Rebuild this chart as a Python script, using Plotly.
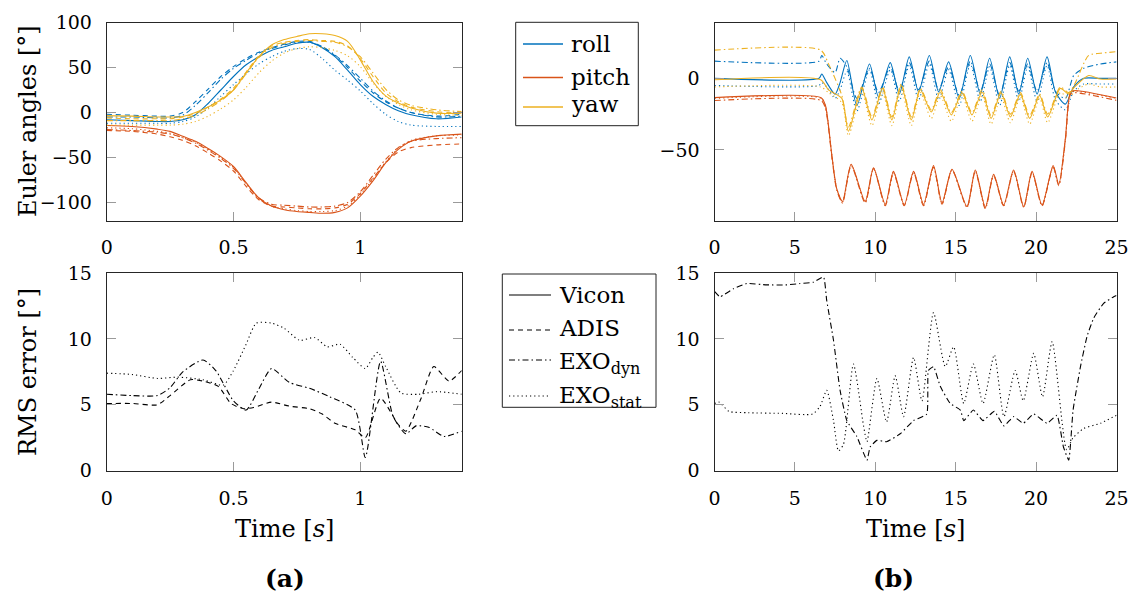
import plotly.graph_objects as go

W, H = 1129, 596
FONT = "DejaVu Serif"
C_ROLL, C_PITCH, C_YAW = "#0072BD", "#D95319", "#EDB120"
DASHES = {"Vicon": "solid", "ADIS": "5px,4px", "EXO_dyn": "6px,3px,1.5px,3px", "EXO_stat": "1.2px,3px"}

# ---------------- (a) Euler angles ----------------
T_A = [0, 0.1, 0.2, 0.25, 0.3, 0.35, 0.4, 0.45, 0.5, 0.55, 0.6, 0.65, 0.7, 0.75, 0.8,
       0.85, 0.9, 0.95, 1.0, 1.05, 1.1, 1.15, 1.2, 1.3, 1.4]
ROLL_VICON_A = [-8, -9, -10, -10, -8, -2.5, 10, 25, 40, 53, 62, 69, 73, 77, 78, 72, 62, 47, 31, 18, 9, 2, -2.5, -7, -5]
ROLL_ADIS_A = [-2, -3, -4, -4, 0, 12, 26, 40, 51, 60, 67, 72, 76, 79, 79, 73, 63, 50, 35, 22, 12, 5, 0, -4, -2]
ROLL_DYN_A = [-5, -5, -6, -6, -3, 8, 22, 37, 49, 58, 66, 71, 75, 78, 78, 73, 64, 52, 38, 24, 13, 5, 0, -5, -4]
ROLL_STAT_A = [-12, -12, -12, -12, -10, -5, 5, 18, 31, 43, 54, 62, 68, 71, 70, 60, 47, 36, 24, 10, -2, -10, -14, -15.5, -15.5]
YAW_VICON_A = [-3.5, -4, -5, -5, -4.5, 0, 6, 14, 25, 44, 62, 75, 81, 84.5, 87.5, 87.5, 85.5, 79, 58.5, 34.5, 18.5, 10.5, 5, -0.7, -0.7]
YAW_ADIS_A = [-6, -7, -7, -7, -5, -1, 6, 15, 27, 45, 63, 74, 78, 80, 81, 80, 79, 74, 60, 40, 22, 12, 6, 1, -1]
YAW_DYN_A = [-9, -9, -9, -9, -7, -3, 4, 13, 25, 43, 61, 72, 77, 79, 80, 79, 78, 73, 62, 44, 26, 14, 8, 3, 1]
YAW_STAT_A = [-14, -14, -14, -14, -13, -10, -4, 4, 14, 28, 44, 57, 66, 71, 73, 72, 69, 63, 51, 33, 18, 9, 3, -2, -3]
PITCH_VICON_A = [-14.5, -15.5, -18.5, -21, -26.5, -32, -40, -49, -60, -78, -95, -104, -108, -110, -111, -112, -111, -106, -93, -76, -56, -41, -32, -26, -24]
PITCH_ADIS_A = [-20, -21, -24, -27, -31, -37, -45, -54, -65, -82, -97, -104, -105, -106, -107, -107, -106, -102, -90, -73, -56, -44, -39, -36, -35]
PITCH_DYN_A = [-19, -20, -22, -24, -28, -34, -42, -51, -62, -79, -95, -102, -103, -104, -105, -105, -104, -100, -88, -70, -52, -39, -32, -29, -28]
PITCH_STAT_A = [-17, -18, -21, -23, -28, -33, -41, -50, -61, -79, -96, -104, -107, -109, -110, -110, -109, -104, -91, -74, -55, -40, -31, -26, -25]

# ---------------- (a) RMS error ----------------
RMS_ADIS_A_T = [0, 0.1, 0.2, 0.25, 0.33, 0.38, 0.44, 0.49, 0.54, 0.58, 0.65, 0.72, 0.8, 0.85, 0.9, 0.98,
                1.02, 1.08, 1.15, 1.18, 1.24, 1.29, 1.35, 1.4]
RMS_ADIS_A = [5.1, 5.1, 5.0, 5.7, 6.9, 6.8, 6.4, 5.1, 4.7, 4.8, 5.2, 4.9, 4.7, 4.3, 3.6, 3.1,
              2.5, 5.5, 3.5, 3.0, 5.5, 7.9, 6.8, 7.6]
RMS_DYN_A_T = [0, 0.1, 0.2, 0.25, 0.3, 0.38, 0.43, 0.5, 0.55, 0.6, 0.65, 0.72, 0.8, 0.88, 0.98, 1.02,
               1.08, 1.13, 1.18, 1.22, 1.27, 1.33, 1.4]
RMS_DYN_A = [5.8, 5.7, 5.7, 6.3, 7.5, 8.4, 7.6, 5.3, 4.6, 6.2, 7.75, 6.7, 6.25, 5.6, 4.6, 1.0,
             8.3, 4.1, 2.8, 3.4, 3.3, 2.6, 3.0]
RMS_STAT_A_T = [0, 0.1, 0.2, 0.28, 0.38, 0.46, 0.5, 0.55, 0.59, 0.65, 0.7, 0.76, 0.82, 0.87, 0.92, 0.97,
                1.02, 1.05, 1.07, 1.1, 1.16, 1.23, 1.3, 1.4]
RMS_STAT_A = [7.4, 7.3, 7.0, 7.1, 6.9, 6.5, 7.6, 9.6, 11.2, 11.2, 10.8, 9.9, 10.1, 9.4, 9.6, 8.6,
              7.75, 8.6, 9.0, 7.9, 5.9, 5.8, 6.0, 5.8]

# ---------------- (b) Euler angles ----------------
T_ROLL_B = [0, 6.5, 6.67, 6.98, 7.5, 7.81, 8.23, 8.85, 9.64, 10.2, 10.93, 11.49, 12.11, 12.69, 13.36,
            13.94, 14.56, 15.22, 15.91, 16.53, 17.11, 17.73, 18.36, 18.92, 19.48, 20.06, 20.68, 21.2,
            21.82, 22.34, 22.96, 24, 25]
ROLL_VICON_B = [0, 0, 3, -3, -11, -3, 12.5, -19, 10, -13, 11, -11, 15, -9.5, 16, -9.5, 11.5, -14, 16,
                -11, 14, -14, 15, -11, 14, -11, 15, -9.5, -18, -6, 0, 0, 0]
ROLL_DYN_B = [12, 12, 16, 10, 4, 14, 8, -14, 7, -10, 8, -9, 11, -8, 12, -8, 8, -12, 12, -9, 10, -12,
              11, -9, 10, -9, 11, -9, -14, 2, 7, 10, 11.5]
ROLL_STAT_B = [-5, -5, -3, -6, -14, -8, 5, -23, 6, -18, 6, -16, 9, -15, 10, -15, 6, -19, 10, -16, 8,
               -19, 9, -16, 8, -16, 9, -15, -22, -9, -4, -4, -4]
T_YAW_B = [0, 6.6, 7.09, 7.92, 8.33, 9.16, 9.79, 10.45, 11.03, 11.61, 12.24, 12.8, 13.48, 14.04, 14.73,
           15.39, 16.01, 16.64, 17.2, 17.82, 18.4, 19.02, 19.6, 20.22, 20.72, 21.51, 22.03, 22.4, 23.27,
           24, 25]
YAW_VICON_B = [-1, -1, -8, -14, -37, -7, -29, -7, -29, -5, -29, -8, -23.5, -9.5, -25.5, -10, -25.5,
               -9.5, -28, -10, -27, -11, -28, -12, -27, -7, -11, -6, 2, -0.5, -0.5]
YAW_DYN_B = [19.7, 19.7, 10, -12, -34, -6, -27, -6, -27, -4, -27, -7, -22, -8, -24, -9, -24, -8, -26,
             -9, -25, -10, -26, -11, -25, -6, -10, -4, 16, 17.5, 18.6]
YAW_STAT_B = [-6, -6, -10, -17, -40, -10, -33, -10, -33, -8, -33, -10, -28, -12, -30, -12, -30, -12,
              -32, -13, -31, -13, -32, -14, -31, -10, -14, -9, -4, -6, -6]
T_PITCH_B = [0, 6.63, 6.9, 7.3, 7.6, 7.96, 8.5, 9.37, 9.89, 10.62, 11.13, 11.8, 12.38, 13.0, 13.62,
             14.15, 14.77, 15.7, 16.22, 16.84, 17.36, 17.98, 18.6, 19.23, 19.75, 20.37, 21.06, 21.41,
             21.82, 22.14, 22.4, 25]
PITCH_VICON_B = [-13.5, -13.5, -19, -54, -77, -86, -60, -86, -62.5, -88, -65, -88.5, -65, -88, -61,
                 -87, -63.5, -89.5, -64, -90, -67, -88.5, -64, -89.5, -65, -88.5, -61, -74, -42, -9.5,
                 -8.5, -13.7]
PITCH_DYN_B = [-15.5, -15.5, -21, -55, -78, -87, -61, -87, -63, -89, -66, -89, -66, -89, -62, -88,
               -64, -90, -65, -91, -68, -89, -65, -90, -66, -89, -62, -75, -44, -11, -10, -15.4]
PITCH_STAT_B = [-14, -14, -19.5, -54, -77, -86.5, -60.5, -86.5, -63, -88.5, -65.5, -88.5, -65.5,
                -88.5, -61.5, -87.5, -64, -90, -64.5, -90.5, -67.5, -89, -64.5, -90, -65.5, -89,
                -61.5, -74.5, -42.5, -10, -9, -14]

# ---------------- (b) RMS error ----------------
RMS_DYN_B_T = [0, 0.34, 1.17, 2.0, 3.25, 4.5, 5.3, 6.15, 6.78, 6.98, 7.4, 7.81, 8.23, 8.85, 9.48, 9.68,
               10.1, 10.7, 11.55, 12.38, 13.2, 13.3, 13.62, 14.04, 14.66, 15.29, 15.5, 16.1, 16.7,
               17.4, 18.0, 18.6, 19.2, 19.85, 20.68, 21.3, 21.7, 22.03, 22.3, 22.76, 23.17, 23.59,
               24.2, 24.83, 25]
RMS_DYN_B = [13.6, 13.2, 13.8, 14.2, 14.1, 14.1, 14.2, 14.3, 14.7, 12.9, 9.9, 6.1, 3.8, 2.6, 0.8,
             1.8, 2.3, 2.2, 2.8, 3.8, 4.3, 7.6, 7.9, 6.4, 5.1, 4.6, 3.8, 4.6, 3.8, 4.5, 3.4, 4.1,
             3.6, 4.3, 3.6, 4.2, 1.8, 0.8, 4.6, 7.9, 10.2, 11.6, 12.7, 13.2, 13.3]
RMS_STAT_B_T = [0, 0.3, 0.9, 2.1, 4.2, 6.1, 6.57, 6.98, 7.4, 7.71, 8.02, 8.64, 9.27, 9.48, 10.1, 10.7,
                11.24, 11.76, 12.38, 12.9, 13.62, 14.35, 14.87, 15.5, 16.1, 16.7, 17.4, 18.0, 18.7,
                19.2, 19.85, 20.4, 21.0, 21.9, 22.3, 22.96, 24.0, 25]
RMS_STAT_B = [5.1, 5.2, 4.5, 4.4, 4.35, 4.3, 4.9, 6.1, 3.8, 1.5, 2.0, 8.1, 3.4, 2.2, 7.0, 3.7, 7.2,
              4.1, 8.6, 5.3, 12.0, 7.9, 9.4, 5.1, 8.1, 5.1, 8.8, 4.1, 7.6, 5.3, 8.9, 5.6, 9.8, 1.6,
              2.5, 3.2, 3.6, 4.2]

ANGLE_LEGEND = ["roll", "pitch", "yaw"]
SOURCE_LEGEND = ["Vicon", "ADIS", "EXO<sub>dyn</sub>", "EXO<sub>stat</sub>"]
SOURCE_KEYS = ["Vicon", "ADIS", "EXO_dyn", "EXO_stat"]

fig = go.Figure()


def add_line(x, y, color, src, xa, ya, smooth=0.8, width=1.1):
    fig.add_trace(go.Scatter(
        x=x, y=y, mode="lines", xaxis=xa, yaxis=ya, showlegend=False, hoverinfo="skip",
        line=dict(color=color, width=width, dash=DASHES[src], shape="spline", smoothing=smooth)))


# (a) angles
for color, series in [
    (C_ROLL, [("EXO_stat", ROLL_STAT_A), ("EXO_dyn", ROLL_DYN_A), ("ADIS", ROLL_ADIS_A), ("Vicon", ROLL_VICON_A)]),
    (C_PITCH, [("EXO_stat", PITCH_STAT_A), ("EXO_dyn", PITCH_DYN_A), ("ADIS", PITCH_ADIS_A), ("Vicon", PITCH_VICON_A)]),
    (C_YAW, [("EXO_stat", YAW_STAT_A), ("EXO_dyn", YAW_DYN_A), ("ADIS", YAW_ADIS_A), ("Vicon", YAW_VICON_A)]),
]:
    for src, vals in series:
        add_line(T_A, vals, color, src, "x", "y")

# (a) RMS
add_line(RMS_ADIS_A_T, RMS_ADIS_A, "#000", "ADIS", "x2", "y2", 0.6)
add_line(RMS_DYN_A_T, RMS_DYN_A, "#000", "EXO_dyn", "x2", "y2", 0.6)
add_line(RMS_STAT_A_T, RMS_STAT_A, "#000", "EXO_stat", "x2", "y2", 0.6)

# (b) angles
for color, t, series in [
    (C_ROLL, T_ROLL_B, [("EXO_stat", ROLL_STAT_B), ("EXO_dyn", ROLL_DYN_B), ("Vicon", ROLL_VICON_B)]),
    (C_PITCH, T_PITCH_B, [("EXO_stat", PITCH_STAT_B), ("EXO_dyn", PITCH_DYN_B), ("Vicon", PITCH_VICON_B)]),
    (C_YAW, T_YAW_B, [("EXO_stat", YAW_STAT_B), ("EXO_dyn", YAW_DYN_B), ("Vicon", YAW_VICON_B)]),
]:
    for src, vals in series:
        add_line(t, vals, color, src, "x3", "y3", 0.7)

# (b) RMS
add_line(RMS_DYN_B_T, RMS_DYN_B, "#000", "EXO_dyn", "x4", "y4", 0.4)
add_line(RMS_STAT_B_T, RMS_STAT_B, "#000", "EXO_stat", "x4", "y4", 0.6)


def px_x(v):
    return v / W


def px_y(v):
    return 1 - v / H


TICKFONT = dict(family=FONT, size=19, color="#000")


def axis(domain, rng, tickvals, anchor, ticktext=None):
    d = dict(domain=domain, range=rng, tickvals=tickvals, anchor=anchor, showline=True,
             linecolor="#262626", linewidth=1, mirror="ticks", ticks="inside", ticklen=9,
             tickcolor="#9a9a9a", tickwidth=1, showgrid=False, zeroline=False, automargin=False,
             tickfont=TICKFONT, ticklabelstandoff=10, fixedrange=True)
    if ticktext is not None:
        d["ticktext"] = ticktext
    return d


XL = [px_x(106.7), px_x(461.7)]
XR = [px_x(714.5), px_x(1116.5)]
YT = [px_y(220.5), px_y(22.5)]
YB = [px_y(470.7), px_y(273.0)]

fig.update_layout(
    template="none",
    width=W, height=H, margin=dict(l=0, r=0, t=0, b=0, pad=0), autosize=False,
    paper_bgcolor="white", plot_bgcolor="white", showlegend=False,
    font=dict(family=FONT, color="#000"),
    xaxis=axis(XL, [0, 1.4], [0, 0.5, 1], "y", ["0", "0.5", "1"]),
    yaxis=axis(YT, [-120, 100], [-100, -50, 0, 50, 100], "x"),
    xaxis2=axis(XL, [0, 1.4], [0, 0.5, 1], "y2", ["0", "0.5", "1"]),
    yaxis2=axis(YB, [0, 15], [0, 5, 10, 15], "x2"),
    xaxis3=axis(XR, [0, 25], [0, 5, 10, 15, 20, 25], "y3"),
    yaxis3=axis(YT, [-99.3, 39], [-50, 0], "x3"),
    xaxis4=axis(XR, [0, 25], [0, 5, 10, 15, 20, 25], "y4"),
    yaxis4=axis(YB, [0, 15], [0, 5, 10, 15], "x4"),
)

ann = []
shapes = []
LABEL = dict(family=FONT, size=24, color="#000")
ann.append(dict(text="Euler angles [°]", x=px_x(28), y=px_y(121), textangle=-90, font=LABEL))
ann.append(dict(text="RMS error [°]", x=px_x(28), y=px_y(372), textangle=-90, font=LABEL))
ann.append(dict(text="Time [<i>s</i>]", x=px_x(284), y=px_y(529), font=LABEL))
ann.append(dict(text="Time [<i>s</i>]", x=px_x(915), y=px_y(529), font=LABEL))
CAP = dict(family=FONT, size=25, color="#000")
ann.append(dict(text="<b>(a)</b>", x=px_x(285), y=px_y(578), font=CAP))
ann.append(dict(text="<b>(b)</b>", x=px_x(893), y=px_y(578), font=CAP))

LEG = dict(family=FONT, size=23, color="#000")
# legend 1: angles
shapes.append(dict(type="rect", xref="paper", yref="paper", x0=px_x(515.7), x1=px_x(638.3),
                   y0=px_y(125.7), y1=px_y(22.3), line=dict(color="#222", width=1), fillcolor="white",
                   layer="below"))
for name, color, ly, ty in zip(ANGLE_LEGEND, [C_ROLL, C_PITCH, C_YAW], [44, 77.5, 107], [44, 77, 104]):
    shapes.append(dict(type="line", xref="paper", yref="paper", x0=px_x(523), x1=px_x(563),
                       y0=px_y(ly), y1=px_y(ly), line=dict(color=color, width=1.3)))
    ann.append(dict(text=name, x=px_x(569), y=px_y(ty), xanchor="left", yanchor="middle", font=LEG))
# legend 2: sources
shapes.append(dict(type="rect", xref="paper", yref="paper", x0=px_x(502.3), x1=px_x(656),
                   y0=px_y(407.3), y1=px_y(274), line=dict(color="#222", width=1), fillcolor="white",
                   layer="below"))
for name, key, ly, ty in zip(SOURCE_LEGEND, SOURCE_KEYS, [295, 330, 360, 396], [295, 328, 363, 397]):
    shapes.append(dict(type="line", xref="paper", yref="paper", x0=px_x(509), x1=px_x(551),
                       y0=px_y(ly), y1=px_y(ly), line=dict(color="#000", width=1.1, dash=DASHES[key])))
    ann.append(dict(text=name, x=px_x(557), y=px_y(ty), xanchor="left", yanchor="middle", font=LEG))

for a in ann:
    a.setdefault("xref", "paper")
    a.setdefault("yref", "paper")
    a.setdefault("showarrow", False)
    a.setdefault("xanchor", "center")
    a.setdefault("yanchor", "middle")

fig.update_layout(annotations=ann, shapes=shapes)
fig.write_html("out.html", config={"displayModeBar": False},
               post_script="document.body.style.margin='0px';")
